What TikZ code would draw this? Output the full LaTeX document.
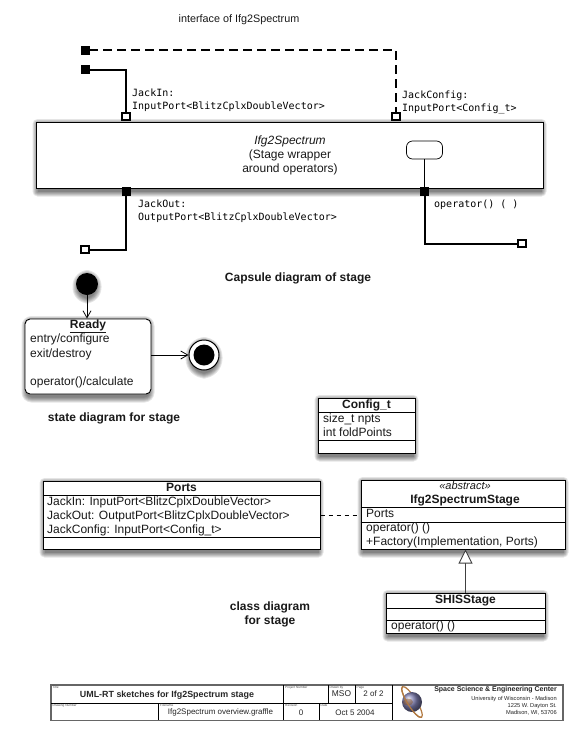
\documentclass[tikz,border=0pt]{standalone}
\usepackage{fontspec}
\setmainfont{Liberation Sans}
\setmonofont{DejaVu Sans Mono}
\usetikzlibrary{arrows.meta}
\newcommand{\softshadow}[5]{%
  \foreach \d in {0,1,2,3,4,5}{%
    \fill[black,opacity=.10,rounded corners=#5+\d*1pt]
      (#1+1.5-\d*1,#2+2-\d*1) rectangle (#3-1.5+\d*1,#4+3.5+\d*1);
  }%
}
\tikzset{
  txt/.style={inner sep=0pt,font=\fontsize{12}{14}\selectfont,text=black!90},
  btxt/.style={txt,font=\fontsize{12}{14}\selectfont\bfseries},
  mono/.style={inner sep=0pt,align=left,anchor=north west,font=\fontsize{10}{13.4}\ttfamily},
  umlbox/.style={draw=black,line width=1pt,fill=white,inner sep=0pt},
  wire/.style={line width=2pt,line join=miter},
  portfull/.style={draw=black,fill=black,line width=.8pt,inner sep=0pt,minimum size=8pt},
  portopen/.style={draw=black,fill=white,line width=1.8pt,inner sep=0pt,minimum size=7.5pt},
  tiny/.style={inner sep=0pt,anchor=north west,font=\fontsize{3.2}{3.2}\selectfont,text=black!70},
  tb/.style={inner sep=0pt,font=\fontsize{8}{10}\selectfont,text=black!85},
  sep/.style={line width=1pt},
  openarrow/.style={-{Straight Barb[length=7pt,width=8pt,line width=.8pt]},line width=.8pt},
}
\begin{document}
\begin{tikzpicture}[x=1pt,y=-1pt]
\useasboundingbox (0,0) rectangle (576,734);
\fill[white] (0,0) rectangle (576,734);

% ---------- capsule diagram
\node[txt,font=\fontsize{10.8}{14}\selectfont] (captop) at (239,19.5) {interface of Ifg2Spectrum};
\softshadow{36}{122}{543}{188}{0pt}
\node[umlbox,minimum width=507pt,minimum height=66pt] (stage) at (289.5,155) {};
\node[txt,align=center] (stagetxt) at (290,155.5)
  {\textit{Ifg2Spectrum}\\ (Stage wrapper\\ around operators)};
\node[draw=black,fill=white,line width=.7pt,rounded corners=6pt,minimum width=36pt,minimum height=18pt,inner sep=0pt] (oper) at (424.5,150) {};

\node[portfull] (inA) at (85,69.5) {};
\node[portopen] (inB) at (126,116.5) {};
\node[portfull] (cfgA) at (85,50) {};
\node[portopen] (cfgB) at (396,116.5) {};
\node[portfull] (outA) at (126,191.5) {};
\node[portopen] (outB) at (85,249.5) {};
\node[portfull] (opA) at (424.5,191) {};
\node[portopen] (opB) at (522,243.5) {};

\draw[wire] (inA) -| (inB);
\draw[wire,dash pattern=on 9pt off 5pt] (cfgA) -| (cfgB);
\draw[wire] (outA) |- (outB);
\draw[wire] (opA) |- (opB);
\draw[line width=.7pt] (oper) -- (opA);

\node[mono] (lIn) at (132,88.5) {JackIn:\\InputPort<BlitzCplxDoubleVector>};
\node[mono] (lCfg) at (402,90.5) {JackConfig:\\InputPort<Config\_t>};
\node[mono] (lOut) at (138,199.5) {JackOut:\\OutputPort<BlitzCplxDoubleVector>};
\node[mono] (lOp) at (434,199.5) {operator() ( )};
\node[btxt] (capcap) at (298,278) {Capsule diagram of stage};

% ---------- state diagram
\softshadow{76}{273}{98}{295}{11pt}
\node[circle,fill=black,minimum size=22pt,inner sep=0pt] (start) at (87,284) {};
\softshadow{25}{319}{151}{394}{5pt}
\node[draw=black,line width=.9pt,fill=white,rounded corners=5pt,minimum width=126pt,minimum height=75pt,inner sep=0pt] (ready) at (88,356.5) {};
\softshadow{189}{340}{219}{370}{15pt}
\node[circle,draw=black,line width=1pt,fill=white,minimum size=30pt,inner sep=0pt] (final) at (204,355) {};
\node[circle,fill=black,minimum size=21pt,inner sep=0pt] (finalin) at (204,355) {};
\draw[openarrow] (start) -- (ready.north -| start);
\draw[openarrow] (ready.east |- final) -- (final);
\node[btxt] (rdy) at (88,326) {\underline{Ready}};
\node[txt,anchor=north west,align=left,font=\fontsize{12}{14.1}\selectfont] (rdybody) at (30,334)
  {entry/configure\\ exit/destroy\\ \strut\\ operator()/calculate};
\node[btxt] (statecap) at (114,418) {state diagram for stage};

% ---------- class diagram
\softshadow{318}{398}{415}{453}{0pt}
\node[umlbox,minimum width=97pt,minimum height=55pt] (cfg) at (366.5,425.5) {};
\draw[sep] (cfg.west |- 0,412) -- (cfg.east |- 0,412);
\draw[sep] (cfg.west |- 0,440) -- (cfg.east |- 0,440);
\node[btxt] (cfgt) at (366.5,405) {Config\_t};
\node[txt,anchor=north west,align=left] (cfgb) at (323,414) {size\_t npts\\ int foldPoints};

\softshadow{43}{481}{320}{549}{0pt}
\node[umlbox,minimum width=277pt,minimum height=68pt] (ports) at (181.5,515) {};
\draw[sep] (ports.west |- 0,495) -- (ports.east |- 0,495);
\draw[sep] (ports.west |- 0,537) -- (ports.east |- 0,537);
\node[btxt] (portst) at (181.5,487.5) {Ports};
\node[txt,anchor=north west,align=left] (portsb) at (47,496.5)
  {JackIn: InputPort<BlitzCplxDoubleVector>\\ JackOut: OutputPort<BlitzCplxDoubleVector>\\ JackConfig: InputPort<Config\_t>};

\softshadow{361}{480}{565}{549}{0pt}
\node[umlbox,minimum width=204pt,minimum height=69pt] (ifg) at (463,514.5) {};
\draw[sep] (ifg.west |- 0,507) -- (ifg.east |- 0,507);
\draw[sep] (ifg.west |- 0,522) -- (ifg.east |- 0,522);
\node[txt,font=\fontsize{11}{14}\selectfont\itshape] (abs) at (465,486) {«abstract»};
\node[btxt] (ifgt) at (465,500) {Ifg2SpectrumStage};
\node[txt,anchor=north west] (ifgp) at (366,509) {Ports};
\node[txt,anchor=north west,align=left] (ifgo) at (366,523) {operator() ()\\ +Factory(Implementation, Ports)};

\softshadow{386}{593}{545}{633}{0pt}
\node[umlbox,minimum width=159pt,minimum height=40pt] (shis) at (465.5,613) {};
\draw[sep] (shis.west |- 0,608) -- (shis.east |- 0,608);
\draw[sep] (shis.west |- 0,620) -- (shis.east |- 0,620);
\node[btxt] (shist) at (465.5,600.5) {SHISStage};
\node[txt,anchor=north west] (shiso) at (391,621) {operator() ()};

\draw[line width=.8pt,dash pattern=on 4.5pt off 3.5pt] (ports.east |- 0,515) -- (ifg.west |- 0,515);
\draw[-{Triangle[open,length=14pt,width=14pt,line width=.9pt,fill=white]},line width=1pt,draw=black!75] (shis.north) -- (ifg.south -| shis.north);

\node[btxt,align=center] (classcap) at (270,614.5) {class diagram\\ for stage};

% ---------- title block
\draw[line width=1.2pt,draw=black!60] (51,685) rectangle (563,720.5);
\draw[line width=.9pt] (51,703) -- (392,703);
\draw[line width=.9pt] (158,703) -- (158,720);
\draw[line width=.9pt] (283,685) -- (283,720);
\draw[line width=.9pt] (319,703) -- (319,720);
\draw[line width=.9pt] (328,685) -- (328,703);
\draw[line width=.9pt] (355,685) -- (355,703);
\draw[line width=.9pt] (392,685) -- (392,720);

\node[tiny] (tTitle) at (52.5,686) {Title};
\node[tiny] (tProj) at (285,686) {Project Number};
\node[tiny] (tDrawn) at (329.5,686) {Drawn by};
\node[tiny] (tPage) at (356.5,686) {Page};
\node[tiny] (tDrw) at (52.5,704) {Drawing Number};
\node[tiny] (tFile) at (160,704) {Filename};
\node[tiny] (tRev) at (285,704) {Revision};
\node[tiny] (tDate) at (320.5,704) {Date};

\node[tb,font=\fontsize{8.9}{10}\selectfont\bfseries] (vTitle) at (167,695) {UML-RT sketches for Ifg2Spectrum stage};
\node[tb,font=\fontsize{8.4}{10}\selectfont] (vDrawn) at (341.5,693.5) {MSO};
\node[tb] (vPage) at (373.5,693.5) {2 of 2};
\node[tb] (vFile) at (220.5,712.5) {Ifg2Spectrum overview.graffle};
\node[tb] (vRev) at (301,712.5) {0};
\node[tb] (vDate) at (355,712.5) {Oct 5 2004};

\draw[line width=1.2pt,draw=orange!60!black!75,rotate around={-58:(412,702)}] (412,702) ellipse (18pt and 4.5pt);
\shade[ball color=blue!25!gray!80] (412,702) circle (10pt);
\fill[orange!50!black,opacity=.4] (408,702) ellipse (5pt and 3.5pt);
\draw[line width=1.2pt,draw=orange!60!black!75,rotate around={-58:(412,702)}] (412,702) ++(180:18pt) arc (180:360:18pt and 4.5pt);

\node[tb,anchor=east,font=\fontsize{7}{8.5}\selectfont\bfseries] (ssec) at (557,690) {Space Science \& Engineering Center};
\node[tb,anchor=east,font=\fontsize{5.7}{8}\selectfont] (uw) at (557,699) {University of Wisconsin - Madison};
\node[tb,anchor=east,font=\fontsize{5.7}{8}\selectfont] (addr) at (557,706) {1225 W. Dayton St.};
\node[tb,anchor=east,font=\fontsize{5.7}{8}\selectfont] (city) at (557,713) {Madison, WI, 53706};
\end{tikzpicture}
\end{document}
